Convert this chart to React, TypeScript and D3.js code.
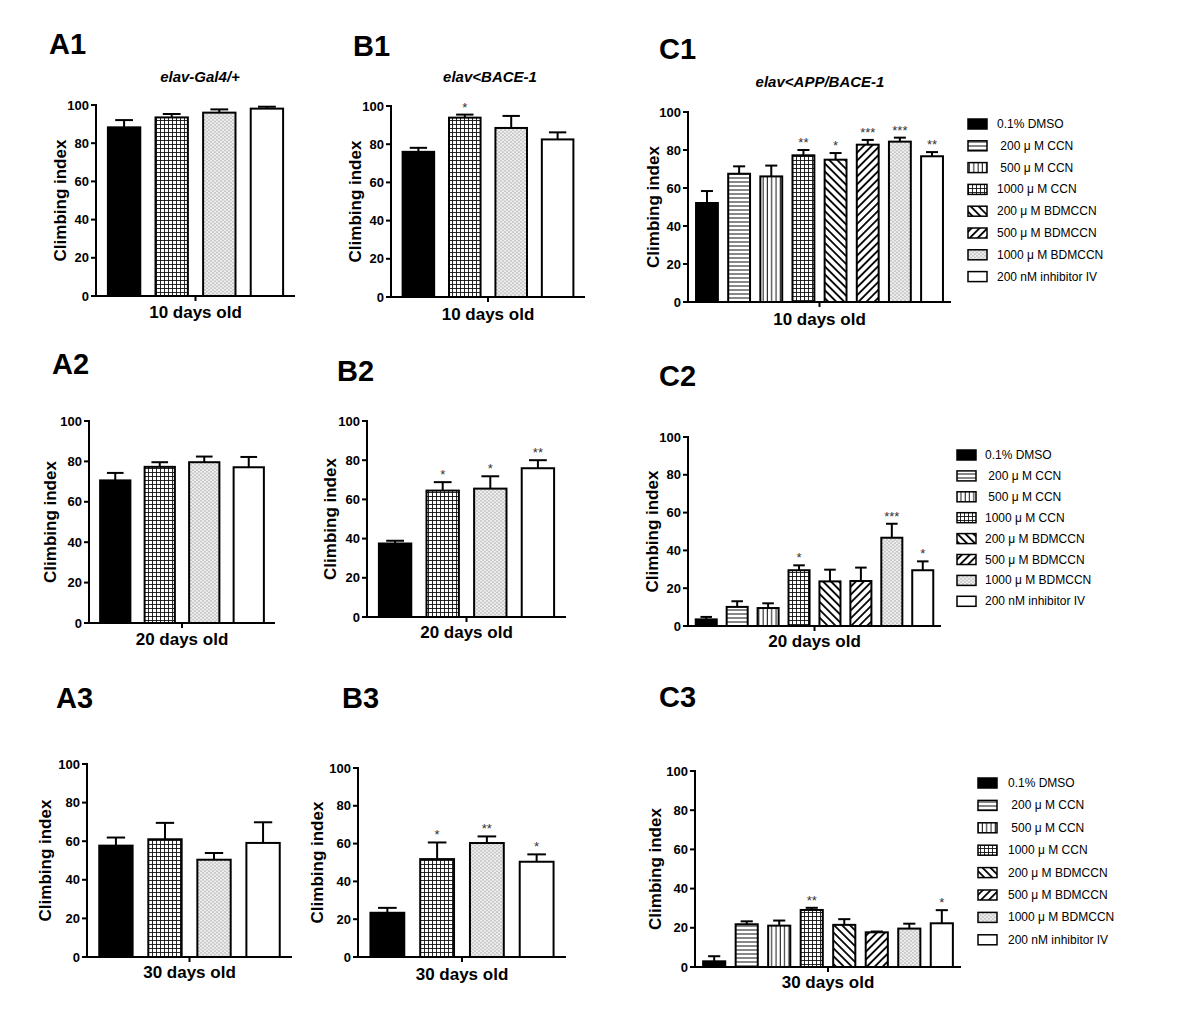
import React from "react";
import * as d3 from "d3";

// ---------- data ----------
const abCategories = ["0.1% DMSO", "1000 μ M CCN", "1000 μ M BDMCCN", "200 nM inhibitor IV"];
const abPatterns = ["black", "grid", "dots", "white"];
const cCategories = [
  "0.1% DMSO",
  " 200 μ M CCN",
  " 500 μ M CCN",
  "1000 μ M CCN",
  "200 μ M BDMCCN",
  "500 μ M BDMCCN",
  "1000 μ M BDMCCN",
  "200 nM inhibitor IV",
];
const cPatterns = ["black", "hlines", "vlines", "grid", "diagBack", "diagFwd", "dots", "white"];
const yTicks = [0, 20, 40, 60, 80, 100];

const a1Values = [88.3, 93.5, 96.0, 98.1];
const a1Errors = [3.8, 1.8, 1.7, 1.0];
const a1Stars = ["", "", "", ""];
const b1Values = [76.0, 93.9, 88.5, 82.5];
const b1Errors = [2.1, 1.6, 6.3, 3.7];
const b1Stars = ["", "*", "", ""];
const c1Values = [52.1, 67.5, 66.1, 77.2, 74.9, 82.8, 84.4, 76.7];
const c1Errors = [6.3, 3.9, 5.7, 2.8, 3.5, 2.5, 2.1, 2.2];
const c1Stars = ["", "", "", "**", "*", "***", "***", "**"];

const a2Values = [70.6, 77.3, 79.6, 77.1];
const a2Errors = [3.7, 2.3, 2.8, 5.1];
const a2Stars = ["", "", "", ""];
const b2Values = [37.5, 64.5, 65.5, 75.9];
const b2Errors = [1.4, 4.3, 6.3, 4.1];
const b2Stars = ["", "*", "*", "**"];
const c2Values = [3.5, 10.1, 9.5, 29.5, 23.6, 23.8, 46.7, 29.5];
const c2Errors = [1.3, 3.0, 2.5, 2.6, 6.2, 7.1, 7.4, 4.7];
const c2Stars = ["", "", "", "*", "", "", "***", "*"];

const a3Values = [57.7, 61.0, 50.4, 59.1];
const a3Errors = [4.2, 8.5, 3.5, 10.7];
const a3Stars = ["", "", "", ""];
const b3Values = [23.4, 51.8, 60.3, 50.4];
const b3Errors = [2.6, 8.8, 3.5, 3.9];
const b3Stars = ["", "*", "**", "*"];
const c3Values = [2.9, 21.8, 21.1, 29.1, 21.5, 17.7, 19.6, 22.3];
const c3Errors = [2.6, 1.5, 2.6, 1.1, 2.9, 0.4, 2.5, 6.7];
const c3Stars = ["", "", "", "**", "", "", "", "*"];

const FONT = "'Liberation Sans', Arial, Helvetica, sans-serif";

type Layout = {
  label: string;
  lx: number; ly: number;
  title?: string; tx?: number; ty?: number;
  x0: number; x1: number; yTop: number; yBot: number;
  ylx: number; xlb: number; xlabel: string;
  legend?: { sx: number; tx: number; y0: number; dy: number };
};

const panels: { layout: Layout; values: number[]; errors: number[]; stars: string[]; cats: string[]; pats: string[] }[] = [
  { layout: { label: "A1", lx: 49, ly: 54, title: "elav-Gal4/+", tx: 200, ty: 82, x0: 96, x1: 295, yTop: 105, yBot: 296, ylx: 60, xlb: 318, xlabel: "10 days old" }, values: a1Values, errors: a1Errors, stars: a1Stars, cats: abCategories, pats: abPatterns },
  { layout: { label: "B1", lx: 353, ly: 56, title: "elav<BACE-1", tx: 490, ty: 82, x0: 391, x1: 585, yTop: 106, yBot: 297, ylx: 355, xlb: 320, xlabel: "10 days old" }, values: b1Values, errors: b1Errors, stars: b1Stars, cats: abCategories, pats: abPatterns },
  { layout: { label: "C1", lx: 659, ly: 59, title: "elav<APP/BACE-1", tx: 820, ty: 87, x0: 688, x1: 951, yTop: 112, yBot: 302, ylx: 653, xlb: 325, xlabel: "10 days old", legend: { sx: 968, tx: 997, y0: 124, dy: 21.8 } }, values: c1Values, errors: c1Errors, stars: c1Stars, cats: cCategories, pats: cPatterns },
  { layout: { label: "A2", lx: 52, ly: 374, x0: 89, x1: 275, yTop: 421, yBot: 623, ylx: 50, xlb: 645, xlabel: "20 days old" }, values: a2Values, errors: a2Errors, stars: a2Stars, cats: abCategories, pats: abPatterns },
  { layout: { label: "B2", lx: 337, ly: 381, x0: 367, x1: 566, yTop: 421, yBot: 617, ylx: 330, xlb: 638, xlabel: "20 days old" }, values: b2Values, errors: b2Errors, stars: b2Stars, cats: abCategories, pats: abPatterns },
  { layout: { label: "C2", lx: 659, ly: 386, x0: 688, x1: 941, yTop: 437, yBot: 626, ylx: 652, xlb: 647, xlabel: "20 days old", legend: { sx: 957, tx: 985, y0: 455, dy: 20.9 } }, values: c2Values, errors: c2Errors, stars: c2Stars, cats: cCategories, pats: cPatterns },
  { layout: { label: "A3", lx: 56, ly: 708, x0: 87, x1: 292, yTop: 764, yBot: 957, ylx: 45, xlb: 978, xlabel: "30 days old" }, values: a3Values, errors: a3Errors, stars: a3Stars, cats: abCategories, pats: abPatterns },
  { layout: { label: "B3", lx: 342, ly: 708, x0: 358, x1: 566, yTop: 768, yBot: 957, ylx: 317, xlb: 980, xlabel: "30 days old" }, values: b3Values, errors: b3Errors, stars: b3Stars, cats: abCategories, pats: abPatterns },
  { layout: { label: "C3", lx: 659, ly: 707, x0: 695, x1: 961, yTop: 771, yBot: 967, ylx: 655, xlb: 988, xlabel: "30 days old", legend: { sx: 978, tx: 1008, y0: 783, dy: 22.4 } }, values: c3Values, errors: c3Errors, stars: c3Stars, cats: cCategories, pats: cPatterns },
];

function fillFor(p: string) {
  if (p === "black") return "#000";
  if (p === "white") return "#fff";
  return `url(#pat-${p})`;
}

function Patterns() {
  return (
    <defs>
      <pattern id="pat-grid" patternUnits="userSpaceOnUse" width={4} height={4}>
        <rect width={4} height={4} fill="#fff" />
        <line x1={0} y1={0.5} x2={4} y2={0.5} stroke="#111" strokeWidth={0.9} />
        <line x1={0.5} y1={0} x2={0.5} y2={4} stroke="#111" strokeWidth={0.9} />
      </pattern>
      <pattern id="pat-dots" patternUnits="userSpaceOnUse" width={4} height={3.4}>
        <rect width={4} height={3.4} fill="#efefef" />
        <circle cx={1} cy={0.9} r={0.6} fill="#7a7a7a" />
        <circle cx={3} cy={2.6} r={0.6} fill="#7a7a7a" />
      </pattern>
      <pattern id="pat-hlines" patternUnits="userSpaceOnUse" width={4} height={4}>
        <rect width={4} height={4} fill="#fff" />
        <line x1={0} y1={2} x2={4} y2={2} stroke="#111" strokeWidth={1} />
      </pattern>
      <pattern id="pat-vlines" patternUnits="userSpaceOnUse" width={4.3} height={4}>
        <rect width={4.3} height={4} fill="#fff" />
        <line x1={2} y1={0} x2={2} y2={4} stroke="#111" strokeWidth={1} />
      </pattern>
      <pattern id="pat-diagBack" patternUnits="userSpaceOnUse" width={5.6} height={5.6} patternTransform="rotate(-45)">
        <rect width={5.6} height={5.6} fill="#fff" />
        <line x1={2.8} y1={0} x2={2.8} y2={5.6} stroke="#000" strokeWidth={1.8} />
      </pattern>
      <pattern id="pat-diagFwd" patternUnits="userSpaceOnUse" width={5.6} height={5.6} patternTransform="rotate(45)">
        <rect width={5.6} height={5.6} fill="#fff" />
        <line x1={2.8} y1={0} x2={2.8} y2={5.6} stroke="#000" strokeWidth={1.8} />
      </pattern>
    </defs>
  );
}

function Panel({ layout, values, errors, stars, cats, pats }: any) {
  const L: Layout = layout;
  const idx = values.map((_: number, i: number) => i);
  const x = d3.scaleBand<number>().domain(idx).range([L.x0, L.x1]).paddingInner(0.32).paddingOuter(0.25);
  const y = d3.scaleLinear().domain([0, 100]).range([L.yBot, L.yTop]);
  const bw = x.bandwidth();
  const cap = bw * 0.55;
  const midX = (L.x0 + L.x1) / 2;
  return (
    <g>
      <text x={L.lx} y={L.ly} fontFamily={FONT} fontWeight="bold" fontSize={29}>{L.label}</text>
      {L.title && (
        <text x={L.tx} y={L.ty} textAnchor="middle" fontFamily={FONT} fontWeight="bold" fontStyle="italic" fontSize={15}>{L.title}</text>
      )}
      {values.map((v: number, i: number) => {
        const bx = x(i)!;
        const top = y(v);
        const et = y(v + errors[i]);
        return (
          <g key={i}>
            <line x1={bx + bw / 2} x2={bx + bw / 2} y1={top} y2={et} stroke="#000" strokeWidth={2} />
            <line x1={bx + bw / 2 - cap / 2} x2={bx + bw / 2 + cap / 2} y1={et} y2={et} stroke="#000" strokeWidth={2} />
            <rect x={bx} y={top} width={bw} height={L.yBot - top} fill={fillFor(pats[i])} stroke="#000" strokeWidth={2} />
            {stars[i] && (
              <text x={bx + bw / 2} y={et - 3} textAnchor="middle" fontFamily={FONT} fontSize={13} fill="#333">{stars[i]}</text>
            )}
          </g>
        );
      })}
      <line x1={L.x0} x2={L.x0} y1={L.yTop - 1} y2={L.yBot + 1} stroke="#000" strokeWidth={2} />
      {yTicks.map((t) => (
        <g key={t}>
          <line x1={L.x0 - 5} x2={L.x0} y1={y(t)} y2={y(t)} stroke="#000" strokeWidth={2} />
          <text x={L.x0 - 7} y={y(t) + 4.5} textAnchor="end" fontFamily={FONT} fontWeight="bold" fontSize={13}>{t}</text>
        </g>
      ))}
      <line x1={L.x0 - 1} x2={L.x1} y1={L.yBot} y2={L.yBot} stroke="#000" strokeWidth={2} />
      <line x1={midX} x2={midX} y1={L.yBot} y2={L.yBot + 5} stroke="#000" strokeWidth={2} />
      <text x={midX} y={L.xlb} textAnchor="middle" fontFamily={FONT} fontWeight="bold" fontSize={17}>{L.xlabel}</text>
      <text transform={`translate(${L.ylx},${(L.yTop + L.yBot) / 2}) rotate(-90)`} textAnchor="middle" dy={6} fontFamily={FONT} fontWeight="bold" fontSize={17}>Climbing index</text>
      {L.legend &&
        cats.map((c: string, i: number) => {
          const ly = L.legend!.y0 + i * L.legend!.dy;
          return (
            <g key={c}>
              <rect x={L.legend!.sx} y={ly - 5} width={19} height={10} fill={fillFor(pats[i])} stroke="#000" strokeWidth={1.5} />
              <text x={L.legend!.tx} y={ly + 4} fontFamily={FONT} fontSize={12} style={{ whiteSpace: "pre" }} xmlSpace="preserve">{c}</text>
            </g>
          );
        })}
    </g>
  );
}

export default function App() {
  return (
    <svg width={1200} height={1027} style={{ position: "absolute", left: 0, top: 0, background: "#fff" }}>
      <rect width={1200} height={1027} fill="#fff" />
      <Patterns />
      {panels.map((p, i) => (
        <Panel key={i} {...p} />
      ))}
    </svg>
  );
}
